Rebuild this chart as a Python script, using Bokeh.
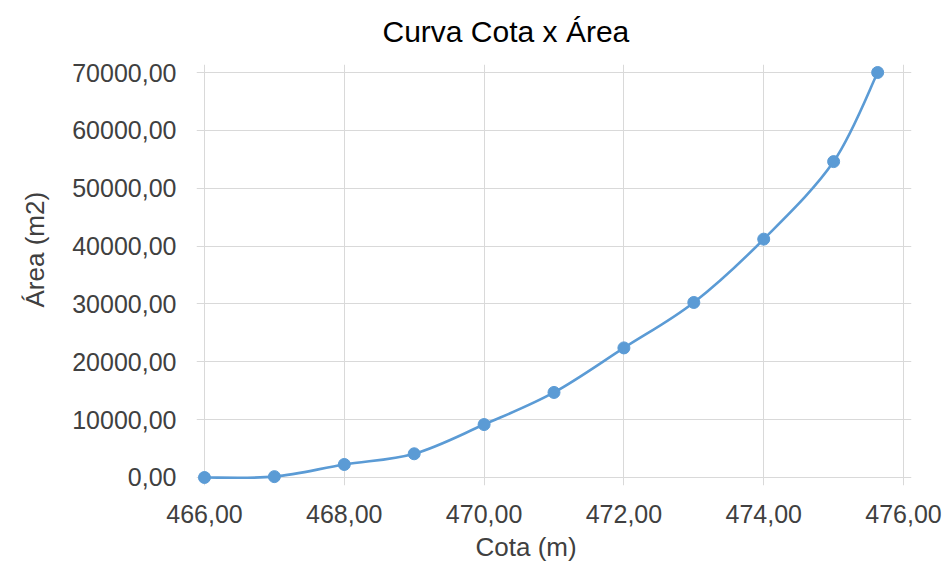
import numpy as np
from bokeh.plotting import figure
from bokeh.models import Range1d, FixedTicker, CustomJSTickFormatter, Title, ColumnDataSource
from bokeh.embed import file_html
from bokeh.resources import INLINE

# ---- data ----
cota = [466.0, 467.0, 468.0, 469.0, 470.0, 471.0, 472.0, 473.0, 474.0, 475.0, 475.63]
area = [0, 150, 2250, 4100, 9150, 14700, 22400, 30250, 41200, 54600, 70000]
x_ticks = [466, 468, 470, 472, 474, 476]
y_ticks = [0, 10000, 20000, 30000, 40000, 50000, 60000, 70000]
title_text = "Curva Cota x Área"
x_title = "Cota (m)"
y_title = "Área (m2)"

BLUE = "#5b9bd5"
TXT = "#404040"
FONT = "Liberation Sans"

p = figure(width=945, height=566, output_backend="svg", toolbar_location=None,
           x_range=Range1d(465.886, 476.114), y_range=Range1d(-1383, 71383),
           min_border_left=196, min_border_right=34, min_border_top=64, min_border_bottom=81)
p.outline_line_color = None
p.background_fill_color = "white"
p.border_fill_color = "white"

fmt = CustomJSTickFormatter(code="return tick.toFixed(2).replace('.', ',');")
for ax, ticks in ((p.xaxis, x_ticks), (p.yaxis, y_ticks)):
    ax.ticker = FixedTicker(ticks=ticks)
    ax.formatter = fmt
    ax.axis_line_color = None
    ax.major_tick_line_color = None
    ax.minor_tick_line_color = None
    ax.major_label_text_font = FONT
    ax.major_label_text_font_size = "25px"
    ax.major_label_text_color = TXT
p.xaxis.major_label_standoff = 13
p.yaxis.major_label_standoff = 14

p.xgrid.ticker = FixedTicker(ticks=x_ticks)
p.ygrid.ticker = FixedTicker(ticks=y_ticks)
for g in (p.xgrid, p.ygrid):
    g.grid_line_color = "#d9d9d9"
    g.grid_line_width = 1

# smoothed curve (bezier segments derived from the data points)
x = np.array(cota, dtype=float)
y = np.array(area, dtype=float)
xp = np.concatenate([[x[0]], x, [x[-1]]])
yp = np.concatenate([[y[0]], y, [y[-1]]])
n = len(x)
k = 1.0 / 6.0
cx0 = x[:-1] + (xp[2:n + 1] - xp[0:n - 1]) * k
cy0 = y[:-1] + (yp[2:n + 1] - yp[0:n - 1]) * k
cx1 = x[1:] - (xp[3:n + 2] - xp[1:n]) * k
cy1 = y[1:] - (yp[3:n + 2] - yp[1:n]) * k
p.bezier(x0=x[:-1], y0=y[:-1], x1=x[1:], y1=y[1:], cx0=cx0, cy0=cy0, cx1=cx1, cy1=cy1,
         line_color=BLUE, line_width=2.6)

src = ColumnDataSource(dict(cota=cota, area=area))
p.scatter("cota", "area", source=src, size=12, marker="circle",
          fill_color=BLUE, line_color=BLUE)

# texts as titles in the side panels
p.add_layout(Title(text=title_text, align="left", offset=186, standoff=29, vertical_align="top",
                   text_font=FONT, text_font_size="30px", text_font_style="normal",
                   text_color="#000000"), "above")
p.add_layout(Title(text=x_title, align="left", offset=279, standoff=9,
                   text_font=FONT, text_font_size="26px", text_font_style="normal",
                   text_color=TXT), "below")
p.add_layout(Title(text=y_title, align="left", offset=178, standoff=36, vertical_align="top",
                   text_font=FONT, text_font_size="26px", text_font_style="normal",
                   text_color=TXT), "left")

open("out.html", "w").write(file_html(p, INLINE))
